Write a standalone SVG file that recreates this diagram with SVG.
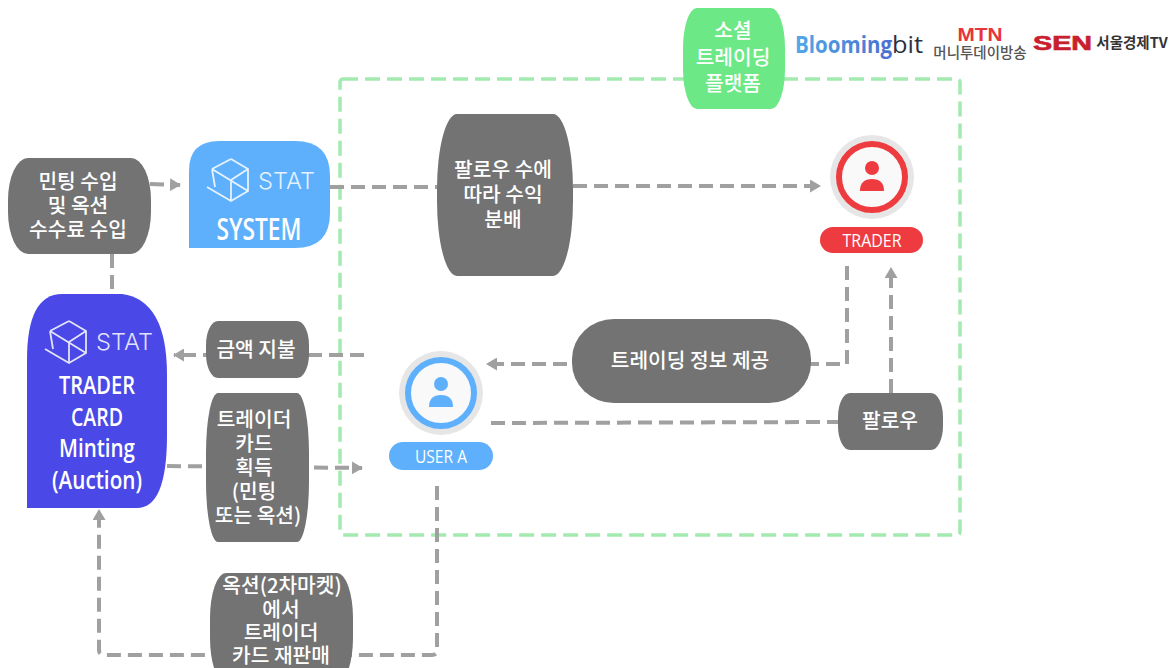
<svg xmlns="http://www.w3.org/2000/svg" width="1175" height="668" viewBox="0 0 1175 668">
<style>
text{font-family:"Noto Sans CJK KR","Noto Sans",sans-serif;text-anchor:middle}
.k{fill:#fff;font-size:20.3px;font-weight:500}
.g{fill:#737373}
.c{fill:none;stroke:#a0a0a0;stroke-width:4;stroke-dasharray:14 7}
.a{marker-end:url(#arr)}
.cond{font-family:"Open Sans",sans-serif;fill:#fff;font-weight:600}
.stat{font-family:"Inter",sans-serif;font-weight:300;fill:#fff;fill-opacity:.85;font-size:23px;text-anchor:start}
.lg{fill:none;stroke:#fff;stroke-opacity:.85;stroke-width:1.8}
</style>
<defs>
<marker id="arr" markerUnits="userSpaceOnUse" markerWidth="12" markerHeight="13" refX="10" refY="6.5" orient="auto"><path d="M0 0L11 6.5L0 13Z" fill="#a0a0a0"/></marker>
<linearGradient id="bl" x1="0" x2="1" y1="0" y2="0"><stop offset="0" stop-color="#52a9e8"/><stop offset="1" stop-color="#4a6fd0"/></linearGradient>
<g id="cube"><path class="lg" d="M0-21L17-11V11L0 21L-24 7M-19-11L0-21M-19-11L-16 7M-19-11L17 11M0 0V21M0 0L17-11"/></g>
<g id="user"><circle r="42" fill="#e6e6e6"/></g>
</defs>
<g id="connectors">
<rect x="340" y="79" width="620" height="456" rx="3" fill="none" stroke="#a3eab0" stroke-width="3.5" stroke-dasharray="15 7"/>
<path class="c a" d="M150 184L180 185"/>
<path class="c" d="M112 254V294"/>
<path class="c" d="M330 187H437"/>
<path class="c a" d="M573 186H820"/>
<path class="c a" d="M364 355H174"/>
<path class="c a" d="M167 466L362 468"/>
<path class="c a" d="M847 266V364H487"/>
<path class="c" d="M491 423L838 422"/>
<path class="c a" d="M891 393V268"/>
<path class="c a" d="M437 486V650Q437 655 432 655H104Q99 655 99 650V510"/>
</g>
<g id="node-social"><rect x="683" y="8" width="102" height="101" rx="14" ry="40" fill="#6de887"/>
<text class="k" x="733" y="38">소셜</text><text class="k" x="733" y="65">트레이딩</text><text class="k" x="733" y="91">플랫폼</text></g>
<g id="logo-bloomingbit"><text x="795" y="53" style="text-anchor:start;font-family:'Open Sans',sans-serif;font-size:23px;font-weight:700" fill="url(#bl)" textLength="97" lengthAdjust="spacingAndGlyphs">Blooming</text><text x="892" y="53" style="text-anchor:start;font-family:'Open Sans',sans-serif;font-size:23px;font-weight:500" fill="#2c3040" textLength="31" lengthAdjust="spacingAndGlyphs">bit</text></g>
<g id="logo-mtn"><text x="980" y="41" style="font-family:'Liberation Sans',sans-serif;font-size:19px;font-weight:700" fill="#e8343a" textLength="45" lengthAdjust="spacingAndGlyphs">MTN</text><text x="980" y="58" style="font-size:14.5px;font-weight:500" fill="#555">머니투데이방송</text></g>
<g id="logo-sen"><text x="1033" y="50" style="text-anchor:start;font-family:'Liberation Sans',sans-serif;font-size:21px;font-weight:700" fill="#c8202f" stroke="#c8202f" stroke-width=".7" textLength="59" lengthAdjust="spacingAndGlyphs">SEN</text><text x="1132" y="48" style="font-size:14.5px;font-weight:700" fill="#333">서울경제TV</text></g>
<g id="node-income"><rect class="g" x="8" y="158" width="143" height="96" rx="20" ry="42"/>
<text class="k" x="78" y="189">민팅 수입</text><text class="k" x="78" y="213">및 옥션</text><text class="k" x="78" y="237">수수료 수입</text></g>
<g id="node-system"><path d="M189 248V171Q189 141 219 141H295Q330 141 330 176V213Q330 248 295 248Z" fill="#5eb0fd"/>
<use href="#cube" x="231" y="180"/><text class="stat" x="258" y="189" textLength="57" lengthAdjust="spacingAndGlyphs">STAT</text>
<text class="cond" x="259" y="240" style="font-size:30px" textLength="85" lengthAdjust="spacingAndGlyphs">SYSTEM</text></g>
<g id="node-share"><rect class="g" x="437" y="114" width="136" height="162" rx="20" ry="75"/>
<text class="k" x="503" y="177">팔로우 수에</text><text class="k" x="503" y="202">따라 수익</text><text class="k" x="503" y="227">분배</text></g>
<g id="node-trader"><use href="#user" x="872" y="177"/><circle cx="872" cy="177" r="33" fill="#f9f9f9" stroke="#ee3b3f" stroke-width="6"/>
<circle cx="872" cy="168" r="7" fill="#ee3b3f"/><path d="M860 191Q860 179 872 179T884 191Z" fill="#ee3b3f"/>
<rect x="820" y="227" width="103" height="26" rx="13" fill="#ee3b3f"/><text class="cond" x="872" y="247" style="font-size:19px;font-weight:400" textLength="59" lengthAdjust="spacingAndGlyphs">TRADER</text></g>
<g id="node-card"><path d="M27 508V360Q27 294 62 294H122Q167 300 167 375V435Q167 508 137 508Z" fill="#4a48e6"/>
<use href="#cube" x="69" y="342"/><text class="stat" x="96" y="350" textLength="57" lengthAdjust="spacingAndGlyphs">STAT</text>
<text class="cond" x="97" y="394" style="font-size:26px" textLength="76" lengthAdjust="spacingAndGlyphs">TRADER</text>
<text class="cond" x="97" y="426" style="font-size:26px" textLength="52" lengthAdjust="spacingAndGlyphs">CARD</text>
<text class="cond" x="97" y="457" style="font-size:26px" textLength="76" lengthAdjust="spacingAndGlyphs">Minting</text>
<text class="cond" x="97" y="489" style="font-size:26px" textLength="90" lengthAdjust="spacingAndGlyphs">(Auction)</text></g>
<g id="node-pay"><rect class="g" x="206" y="321" width="103" height="57" rx="12" ry="24"/><text class="k" x="256" y="357">금액 지불</text></g>
<g id="node-acquire"><rect class="g" x="206" y="393" width="103" height="149" rx="12" ry="60"/>
<text class="k" x="254" y="427">트레이더</text><text class="k" x="254" y="451">카드</text><text class="k" x="254" y="475">획득</text><text class="k" x="254" y="499">(민팅</text><text class="k" x="258" y="523">또는 옥션)</text></g>
<g id="node-info"><rect class="g" x="572" y="319" width="239" height="84" rx="42" ry="40"/><text class="k" x="690" y="368">트레이딩 정보 제공</text></g>
<g id="node-usera"><use href="#user" x="441" y="393"/><circle cx="441" cy="393" r="33" fill="#f9f9f9" stroke="#5eb0fd" stroke-width="6"/>
<circle cx="441" cy="384" r="7" fill="#5eb0fd"/><path d="M429 407Q429 395 441 395T453 407Z" fill="#5eb0fd"/>
<rect x="389" y="442" width="104" height="28" rx="14" fill="#5eb0fd"/><text class="cond" x="441" y="463" style="font-size:19px;font-weight:400" textLength="52" lengthAdjust="spacingAndGlyphs">USER A</text></g>
<g id="node-follow"><rect class="g" x="838" y="393" width="105" height="57" rx="12" ry="24"/><text class="k" x="890" y="428">팔로우</text></g>
<g id="node-resale"><rect class="g" x="210" y="573" width="143" height="110" rx="16" ry="45"/>
<text class="k" x="282" y="593">옥션(2차마켓)</text><text class="k" x="281" y="617">에서</text><text class="k" x="281" y="640">트레이더</text><text class="k" x="281" y="663">카드 재판매</text></g>
</svg>
